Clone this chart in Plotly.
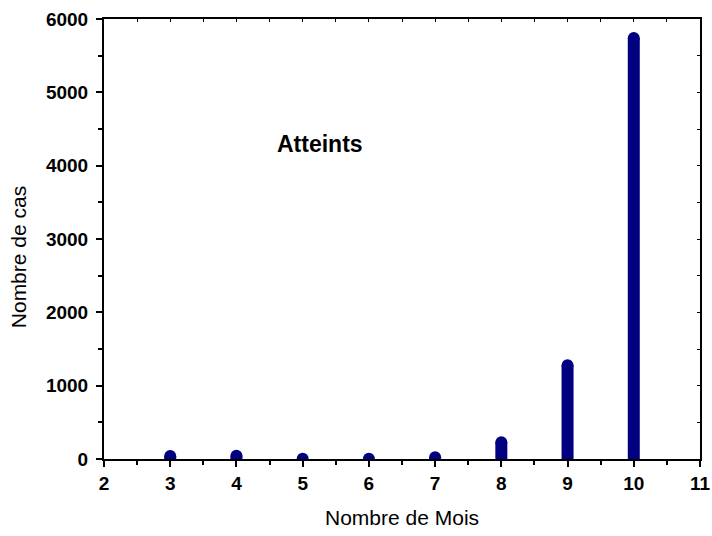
import plotly.graph_objects as go

months = [3, 4, 5, 6, 7, 8, 9, 10]
cases = [40, 45, 5, 5, 25, 230, 1280, 5740]

x_ticks = [2, 3, 4, 5, 6, 7, 8, 9, 10, 11]
y_ticks = [0, 1000, 2000, 3000, 4000, 5000, 6000]

navy = "#000080"
font_family = "Liberation Sans, Arial, sans-serif"

xs, ys = [], []
for m, c in zip(months, cases):
    xs += [m, m, None]
    ys += [0, c, None]

fig = go.Figure()
fig.add_trace(go.Scatter(
    x=xs, y=ys, mode="lines", line=dict(color=navy, width=12),
    showlegend=False, hoverinfo="skip"))
fig.add_trace(go.Scatter(
    x=months, y=cases, mode="markers",
    marker=dict(color=navy, size=12, line=dict(width=0)),
    showlegend=False))
# invisible trace so the mirrored (top/right) axes are drawn
fig.add_trace(go.Scatter(x=[None], y=[None], xaxis="x2", yaxis="y2",
                         showlegend=False, hoverinfo="skip"))

tickfont = dict(family=font_family, size=19, color="black", weight="bold")

fig.update_layout(
    width=712, height=536,
    margin=dict(l=104, r=12, t=19, b=77),
    paper_bgcolor="white", plot_bgcolor="white",
    font=dict(family=font_family, color="black"),
    xaxis=dict(
        range=[2, 11], tickvals=x_ticks, ticktext=[str(v) for v in x_ticks],
        ticks="outside", ticklen=6, tickwidth=1.5, tickcolor="black",
        showline=True, linewidth=2, linecolor="black", mirror=True,
        showgrid=False, zeroline=False, tickfont=tickfont, automargin=False,
        minor=dict(dtick=0.5, tick0=0, ticks="outside", ticklen=4,
                   tickwidth=1.5, tickcolor="black", showgrid=False),
        ticklabelstandoff=0,
    ),
    yaxis=dict(
        range=[0, 6000], tickvals=y_ticks, ticktext=[str(v) for v in y_ticks],
        ticks="outside", ticklen=6, tickwidth=1.5, tickcolor="black",
        showline=True, linewidth=2, linecolor="black", mirror=True,
        showgrid=False, zeroline=False, tickfont=tickfont, automargin=False,
        minor=dict(dtick=500, tick0=0, ticks="outside", ticklen=4,
                   tickwidth=1.5, tickcolor="black", showgrid=False),
        ticklabelstandoff=4,
    ),
    xaxis2=dict(
        overlaying="x", side="top", range=[2, 11], dtick=0.5, tick0=0,
        ticks="inside", ticklen=3, tickwidth=1.2, tickcolor="black",
        showticklabels=False, showline=False, showgrid=False, zeroline=False,
        automargin=False,
    ),
    yaxis2=dict(
        overlaying="y", side="right", range=[0, 6000], dtick=500, tick0=0,
        ticks="inside", ticklen=3, tickwidth=1.2, tickcolor="black",
        showticklabels=False, showline=False, showgrid=False, zeroline=False,
        automargin=False,
    ),
    annotations=[
        dict(text="Atteints", x=0.363, y=0.717, xref="paper", yref="paper",
             showarrow=False, xanchor="center", yanchor="middle",
             font=dict(family=font_family, size=23, color="black", weight="bold")),
        dict(text="Nombre de Mois", x=0.5, y=-0.134, xref="paper", yref="paper",
             showarrow=False, xanchor="center", yanchor="middle",
             font=dict(family=font_family, size=21, color="black")),
        dict(text="Nombre de cas", x=-0.144, y=0.459, xref="paper", yref="paper",
             showarrow=False, xanchor="center", yanchor="middle", textangle=-90,
             font=dict(family=font_family, size=21, color="black")),
    ],
)

fig.write_html("out.html", config={"displayModeBar": False},
               post_script="document.body.style.margin='0';document.body.style.overflow='hidden';")
